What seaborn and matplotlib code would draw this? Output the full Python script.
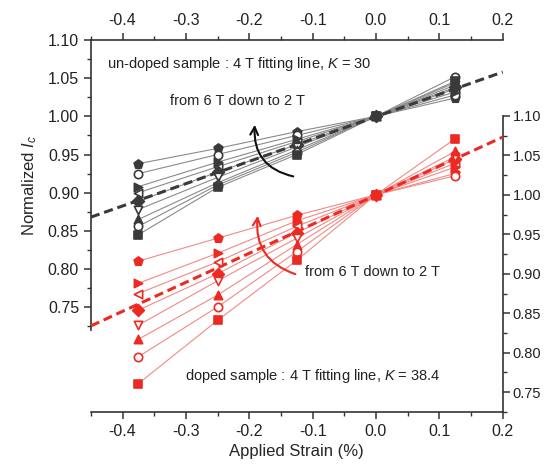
import numpy as np
import pandas as pd
import seaborn as sns
import matplotlib.pyplot as plt
from matplotlib.ticker import MultipleLocator

# Valores de deformación aplicada (%)
strain = [-0.375, -0.25, -0.125, 0.0, 0.125]

# Campo magnético de cada serie (de 6 T a 2 T)
fields_undoped = ["6 T", "5.5 T", "5 T", "4.5 T", "4 T", "3.5 T", "3 T", "2.5 T", "2 T"]
fields_doped = ["6 T", "5 T", "4.5 T", "4 T", "3.5 T", "3 T", "2.5 T", "2 T"]

# Ic normalizada, muestra sin dopar (eje izquierdo)
undoped_6T = [0.938, 0.958, 0.980, 1.0, 1.024]
undoped_55T = [0.925, 0.950, 0.975, 1.0, 1.028]
undoped_5T = [0.908, 0.940, 0.970, 1.0, 1.032]
undoped_45T = [0.900, 0.934, 0.967, 1.0, 1.036]
undoped_4T = [0.889, 0.927, 0.963, 1.0, 1.038]
undoped_35T = [0.878, 0.920, 0.960, 1.0, 1.041]
undoped_3T = [0.865, 0.913, 0.956, 1.0, 1.044]
undoped_25T = [0.856, 0.910, 0.953, 1.0, 1.052]
undoped_2T = [0.845, 0.907, 0.950, 1.0, 1.046]

# Ic normalizada, muestra dopada (eje derecho)
doped_6T = [0.916, 0.945, 0.974, 1.0, 1.027]
doped_5T = [0.888, 0.926, 0.967, 1.0, 1.035]
doped_45T = [0.875, 0.915, 0.960, 1.0, 1.040]
doped_4T = [0.854, 0.900, 0.952, 1.0, 1.045]
doped_35T = [0.835, 0.891, 0.945, 1.0, 1.048]
doped_3T = [0.817, 0.873, 0.937, 1.0, 1.055]
doped_25T = [0.795, 0.858, 0.928, 1.0, 1.024]
doped_2T = [0.761, 0.841, 0.917, 1.0, 1.071]

# Rectas de ajuste a 4 T
fit_x = [-0.45, 0.2]
fit_undoped = [0.868, 1.058]
fit_doped = [0.834, 1.073]

undoped = [undoped_6T, undoped_55T, undoped_5T, undoped_45T, undoped_4T,
           undoped_35T, undoped_3T, undoped_25T, undoped_2T]
doped = [doped_6T, doped_5T, doped_45T, doped_4T, doped_35T,
         doped_3T, doped_25T, doped_2T]

marker_style = {
    "6 T": ("p", True), "5.5 T": ("o", False), "5 T": (">", True),
    "4.5 T": ("<", False), "4 T": ("D", True), "3.5 T": ("v", False),
    "3 T": ("^", True), "2.5 T": ("o", False), "2 T": ("s", True),
}

sns.set_style("ticks")
plt.rcParams["font.family"] = ["Liberation Sans", "DejaVu Sans"]
plt.rcParams["mathtext.fontset"] = "custom"
plt.rcParams["mathtext.it"] = "Liberation Sans:italic"
plt.rcParams["mathtext.rm"] = "Liberation Sans"

W, H = 544, 465
fig = plt.figure(figsize=(W / 100, H / 100), dpi=100)
ax1 = fig.add_axes([0.167, 0.290, 0.757, 0.624])
ax2 = fig.add_axes([0.167, 0.114, 0.757, 0.637])
for ax in (ax1, ax2):
    ax.patch.set_visible(False)

axis_color = "#333333"


def draw_series(ax, series, fields, mcolor, lcolor):
    for vals, f in zip(series, fields):
        df = pd.DataFrame({"strain": strain, "ic": vals})
        sns.lineplot(data=df, x="strain", y="ic", ax=ax, color=lcolor,
                     linewidth=0.8, zorder=2)
        m, filled = marker_style[f]
        size = 44 if m == "p" else 36
        sns.scatterplot(data=df, x="strain", y="ic", ax=ax, marker=m, s=size,
                        facecolor=mcolor if filled else "white",
                        edgecolor=mcolor, linewidth=1.2, zorder=4)


draw_series(ax1, undoped, fields_undoped, "#3a3a3a", "#8a8a8a")
sns.lineplot(x=fit_x, y=fit_undoped, ax=ax1, color="#3a3a3a",
             linestyle=(0, (3, 1.6)), linewidth=2.2, zorder=3)

draw_series(ax2, doped, fields_doped, "#ec2a22", "#f08a86")
sns.lineplot(x=fit_x, y=fit_doped, ax=ax2, color="#ec2a22",
             linestyle=(0, (3, 1.6)), linewidth=2.2, zorder=3)

# Ejes: superior/izquierdo para la muestra sin dopar
ax1.set_xlim(-0.45, 0.2)
ax1.set_ylim(0.72, 1.10)
ax1.spines["bottom"].set_visible(False)
ax1.spines["right"].set_visible(False)
ax1.xaxis.set_ticks_position("top")
ax1.xaxis.set_label_position("top")
ax1.set_xticks(np.arange(-0.4, 0.21, 0.1))
ax1.set_xticklabels(["-0.4", "-0.3", "-0.2", "-0.1", "0.0", "0.1", "0.2"])
ax1.set_yticks(np.arange(0.75, 1.101, 0.05))
ax1.set_yticklabels([f"{v:.2f}" for v in np.arange(0.75, 1.101, 0.05)])
ax1.set_xlabel("")
ax1.set_ylabel("Normalized $I_c$", fontsize=12, labelpad=6)

# Ejes: inferior/derecho para la muestra dopada
ax2.set_xlim(-0.45, 0.2)
ax2.set_ylim(0.725, 1.10)
ax2.spines["top"].set_visible(False)
ax2.spines["left"].set_visible(False)
ax2.spines["right"].set_visible(True)
ax2.yaxis.set_ticks_position("right")
ax2.yaxis.set_label_position("right")
ax2.set_xticks(np.arange(-0.4, 0.21, 0.1))
ax2.set_xticklabels(["-0.4", "-0.3", "-0.2", "-0.1", "0.0", "0.1", "0.2"])
ax2.set_yticks(np.arange(0.75, 1.101, 0.05))
ax2.set_yticklabels([f"{v:.2f}" for v in np.arange(0.75, 1.101, 0.05)])
ax2.set_ylabel("")
ax2.set_xlabel("Applied Strain (%)", fontsize=12, labelpad=4)

for ax in (ax1, ax2):
    ax.xaxis.set_minor_locator(MultipleLocator(0.05))
    ax.yaxis.set_minor_locator(MultipleLocator(0.025))
    ax.tick_params(which="major", length=5, width=1.1, color=axis_color,
                   labelsize=11.5, labelcolor="#222222")
    ax.tick_params(which="minor", length=3, width=1.0, color=axis_color)
    for sp in ax.spines.values():
        sp.set_color(axis_color)
        sp.set_linewidth(1.2)

# etiquetas del eje derecho algo más pequeñas para que quepan
ax2.tick_params(axis="y", which="major", labelsize=10.5, pad=2)


def ftext(x, y, s, **kw):
    fig.text(x / W, 1 - y / H, s, va="center", ha="left", fontsize=10.5,
             color="#222222", **kw)


ftext(107, 64, "un-doped sample : 4 T fitting line, $K$ = 30")
ftext(170, 101, "from 6 T down to 2 T")
ftext(305, 272, "from 6 T down to 2 T")
ftext(185, 376, "doped sample : 4 T fitting line, $K$ = 38.4")

ax1.annotate("", xy=(255, H - 122), xytext=(296, H - 177),
             xycoords="figure pixels", textcoords="figure pixels",
             arrowprops=dict(arrowstyle="->", color="#111111", lw=1.5,
                             connectionstyle="arc3,rad=-0.45",
                             mutation_scale=14))
ax2.annotate("", xy=(258, H - 213), xytext=(298, H - 275),
             xycoords="figure pixels", textcoords="figure pixels",
             arrowprops=dict(arrowstyle="->", color="#ec2a22", lw=1.5,
                             connectionstyle="arc3,rad=-0.42",
                             mutation_scale=14))

fig.savefig("out.png", dpi=100)
